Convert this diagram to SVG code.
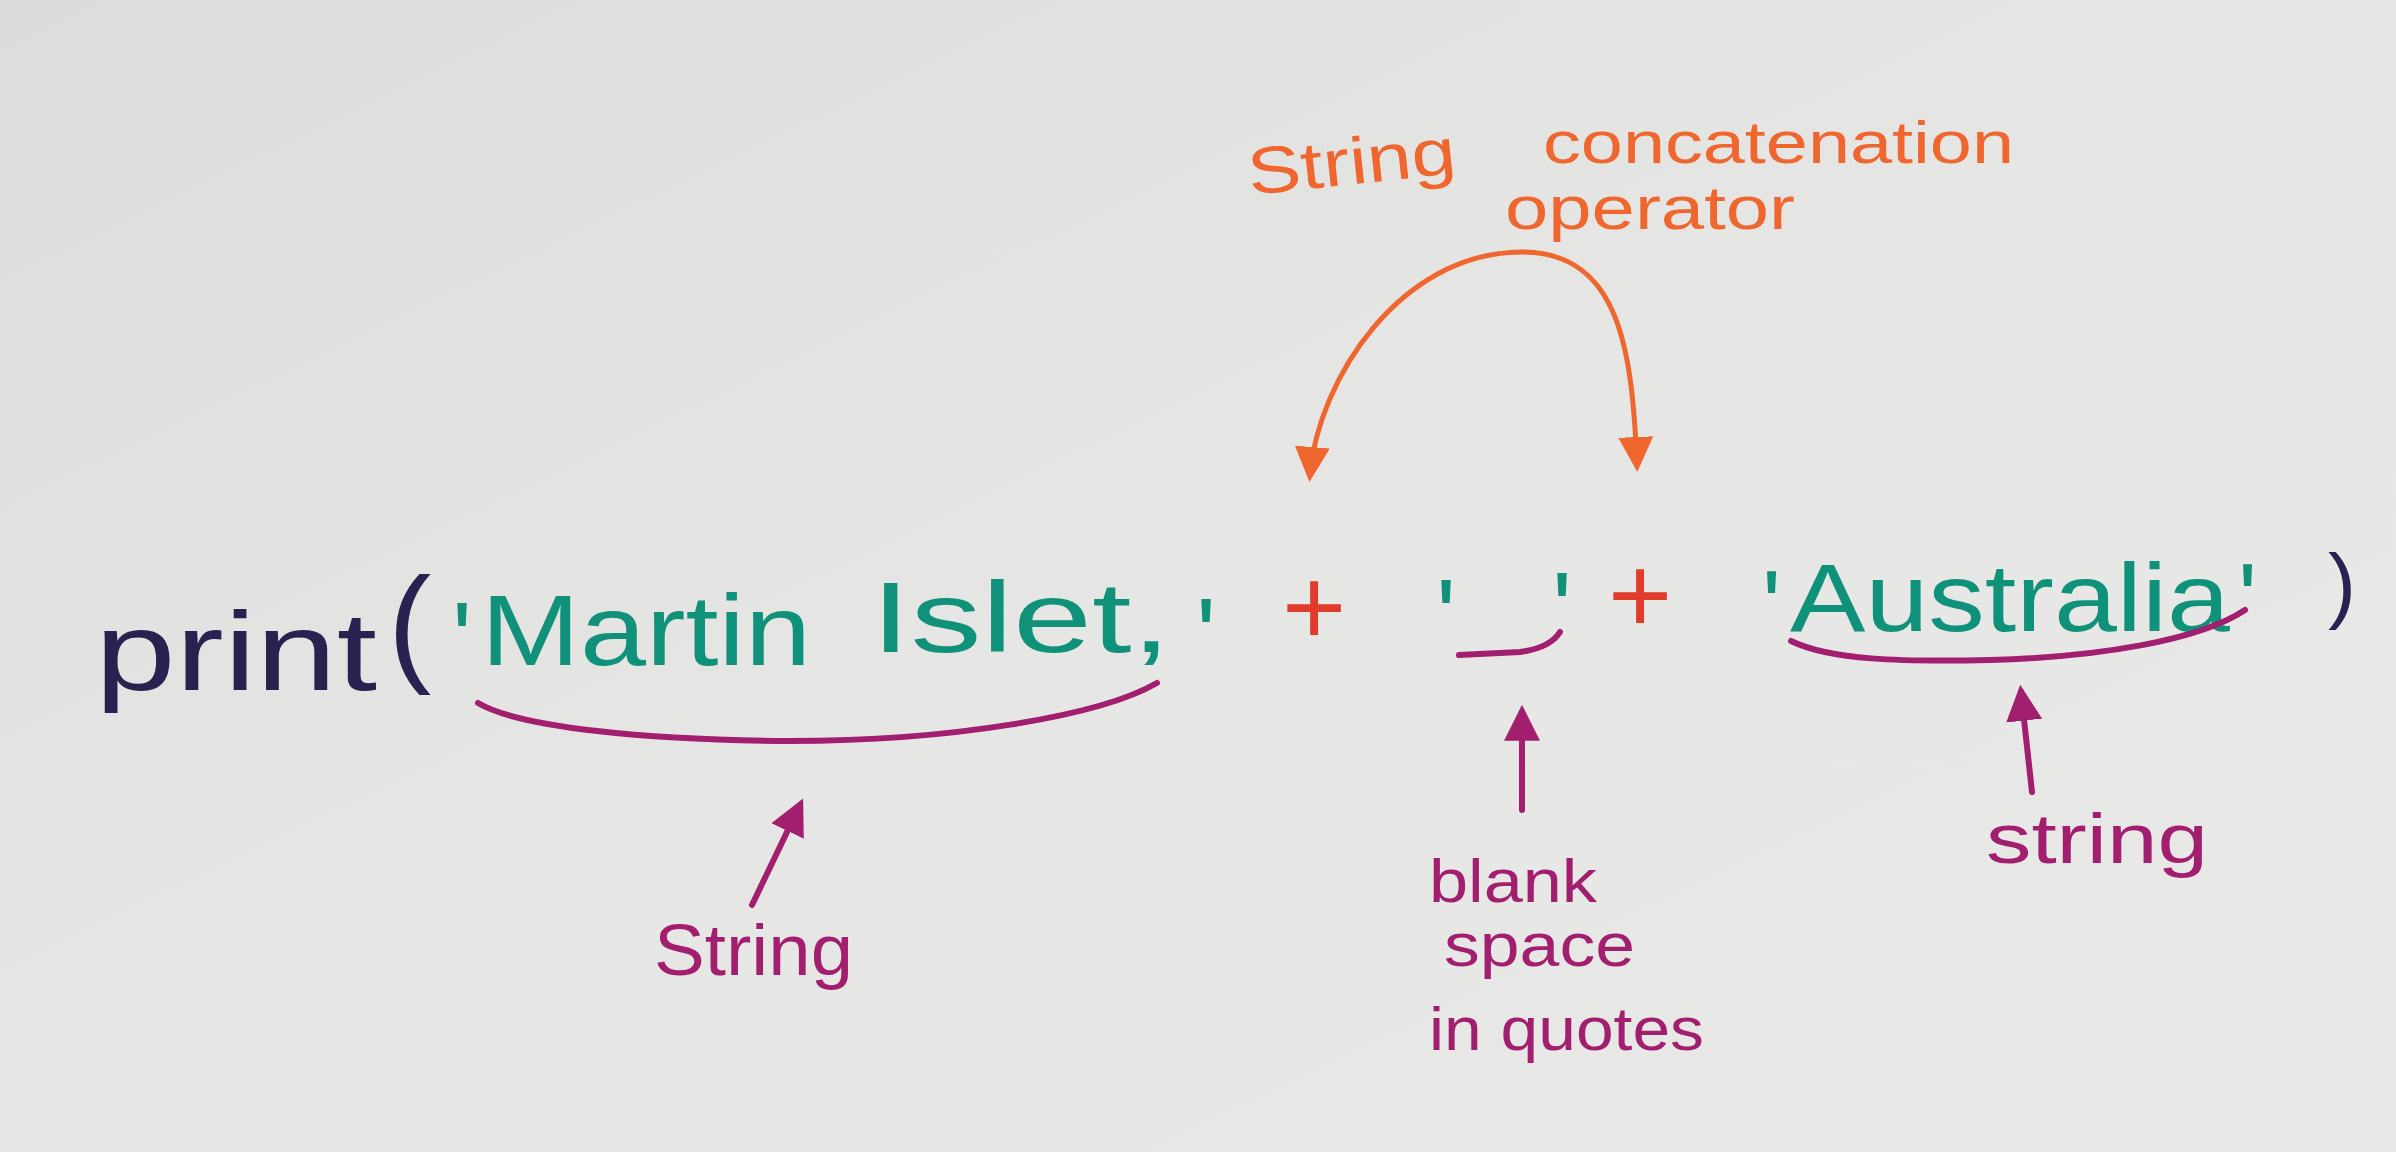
<svg xmlns="http://www.w3.org/2000/svg" width="2396" height="1152" viewBox="0 0 2396 1152">
<style>
text{font-family:"Liberation Sans","DejaVu Sans",sans-serif}
.navy{fill:#2b2150}
.teal{fill:#10927a}
.red{fill:#e13b2b}
.orange{fill:#f0662f}
.purple{fill:#a21f70}
.line{fill:none;stroke-linecap:round;stroke-linejoin:round}
.pline{stroke:#a21f70;stroke-width:6}
.oline{stroke:#f0662f;stroke-width:5}
</style>
<defs>
<linearGradient id="bg" x1="0" y1="0" x2="1" y2="1">
<stop offset="0" stop-color="#dcdcdb"/>
<stop offset="0.5" stop-color="#e6e6e4"/>
<stop offset="1" stop-color="#e9e9e7"/>
</linearGradient>
<marker id="ah-p" viewBox="0 0 10 10" refX="8" refY="5" markerWidth="6" markerHeight="6" orient="auto" markerUnits="strokeWidth">
<path d="M0,0 L10,5 L0,10 Z" fill="#a21f70"/>
</marker>
<marker id="ah-o" viewBox="0 0 10 10" refX="8" refY="5" markerWidth="7" markerHeight="7" orient="auto-start-reverse" markerUnits="strokeWidth">
<path d="M0,0 L10,5 L0,10 Z" fill="#f0662f"/>
</marker>
</defs>
<rect width="2396" height="1152" fill="url(#bg)"/>

<g id="code-print"><text class="navy" x="95" y="690" font-size="112" textLength="282" lengthAdjust="spacingAndGlyphs">print</text></g>
<g id="code-open-paren"><text class="navy" x="388" y="668" font-size="130">(</text></g>
<g id="string-martin-islet">
<text class="teal" x="452" y="676" font-size="105">'</text>
<text class="teal" x="481" y="665" font-size="100" textLength="330" lengthAdjust="spacingAndGlyphs">Martin</text>
<text class="teal" x="871" y="652" font-size="100" textLength="300" lengthAdjust="spacingAndGlyphs">Islet,</text>
<text class="teal" x="1196" y="672" font-size="105">'</text>
</g>
<g id="plus-1"><text class="red" x="1314" y="645" font-size="110" text-anchor="middle">+</text></g>
<g id="string-blank">
<text class="teal" x="1436" y="653" font-size="105">'</text>
<text class="teal" x="1552" y="646" font-size="105">'</text>
</g>
<g id="plus-2"><text class="red" x="1640" y="633" font-size="110" text-anchor="middle">+</text></g>
<g id="string-australia">
<text class="teal" x="1762" y="640" font-size="100">'</text>
<text class="teal" x="1790" y="631" font-size="96" textLength="440" lengthAdjust="spacingAndGlyphs">Australia</text>
<text class="teal" x="2238" y="633" font-size="100">'</text>
</g>
<g id="code-close-paren"><text class="navy" x="2328" y="613" font-size="84">)</text></g>

<g id="label-concat">
<text class="orange" x="1250" y="195" font-size="66" textLength="209" lengthAdjust="spacingAndGlyphs" transform="rotate(-6 1250 195)">String</text>
<text class="orange" x="1543" y="163" font-size="60" textLength="471" lengthAdjust="spacingAndGlyphs">concatenation</text>
<text class="orange" x="1505" y="229" font-size="62" textLength="290" lengthAdjust="spacingAndGlyphs">operator</text>
</g>
<g id="label-string-left"><text class="purple" x="654" y="975" font-size="72" textLength="199" lengthAdjust="spacingAndGlyphs">String</text></g>
<g id="label-blank">
<text class="purple" x="1429" y="902" font-size="62" textLength="168" lengthAdjust="spacingAndGlyphs">blank</text>
<text class="purple" x="1444" y="966" font-size="62" textLength="191" lengthAdjust="spacingAndGlyphs">space</text>
<text class="purple" x="1429" y="1050" font-size="62" textLength="275" lengthAdjust="spacingAndGlyphs">in quotes</text>
</g>
<g id="label-string-right"><text class="purple" x="1986" y="863" font-size="70" textLength="222" lengthAdjust="spacingAndGlyphs">string</text></g>

<g id="connectors">
<path class="line pline" d="M478,703 C520,728 650,740 790,741 C950,741 1100,716 1157,683"/>
<path class="line pline" d="M1459,655 L1520,652 Q1550,648 1560,632"/>
<path class="line pline" d="M1791,641 C1830,660 1900,662 1990,660 C2100,657 2200,640 2245,610"/>
<path class="line pline" d="M752,905 L800,805" marker-end="url(#ah-p)"/>
<path class="line pline" d="M1522,810 L1522,712" marker-end="url(#ah-p)"/>
<path class="line pline" d="M2032,792 L2021,692" marker-end="url(#ah-p)"/>
<path class="line oline" d="M1310,475 C1318,380 1400,252 1522,252 C1620,252 1632,350 1637,465" marker-start="url(#ah-o)" marker-end="url(#ah-o)"/>
</g>
</svg>
